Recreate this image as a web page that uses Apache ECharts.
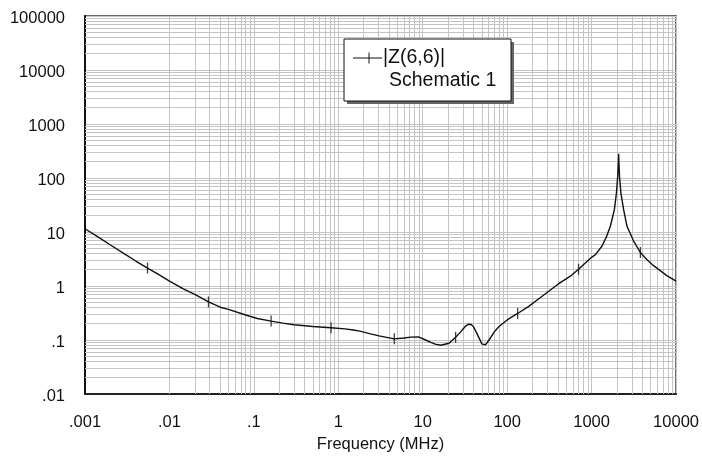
<!DOCTYPE html>
<html>
<head>
<meta charset="utf-8">
<script src="https://cdn.jsdelivr.net/npm/echarts@6/dist/echarts.min.js"></script>
<style>
  html, body { margin: 0; padding: 0; background: #fff; }
  #main { width: 702px; height: 458px; }
</style>
</head>
<body>
<div id="main"></div>
<script>
// |Z(6,6)| vs frequency
const freqMHz = [
  0.001, 0.0015, 0.002, 0.003, 0.004, 0.0055, 0.0075, 0.01, 0.015, 0.02,
  0.029, 0.04, 0.05, 0.08, 0.11, 0.16, 0.22, 0.3, 0.5, 0.82,
  1.2, 1.5, 1.8, 2.4, 3.04, 4.6, 6, 7.2, 8.9, 10.8,
  12.5, 14, 16.3, 20.5, 24.5, 28, 32, 35, 37.5, 40,
  44, 47, 50, 52, 55, 58, 61, 70, 80, 100,
  133, 180, 250, 400, 560, 700, 1000, 1110, 1330, 1500,
  1670, 1860, 1965, 2036, 2075, 2089, 2105, 2140, 2224, 2393,
  2620, 3140, 3780, 4500, 5420, 7770, 10000
];
const zMag = [
  11.5, 7.7, 5.75, 3.85, 2.9, 2.15, 1.62, 1.23, 0.87, 0.7,
  0.506, 0.405, 0.37, 0.29, 0.25, 0.224, 0.205, 0.192, 0.178, 0.169,
  0.161, 0.153, 0.146, 0.13, 0.119, 0.105, 0.109, 0.113, 0.114, 0.1,
  0.09, 0.084, 0.08, 0.087, 0.112, 0.14, 0.18, 0.196, 0.194, 0.175,
  0.13, 0.105, 0.085, 0.079, 0.081, 0.09, 0.1, 0.14, 0.178, 0.235,
  0.31, 0.42, 0.62, 1.08, 1.52, 2.04, 3.4, 3.8, 5.5, 8.2,
  12.9, 25.9, 52, 106, 200, 280, 200, 106, 52, 25.9,
  12.9, 6.8, 4.17, 3.1, 2.38, 1.56, 1.23
];
// tick marks drawn on the trace
const markerFreq = [0.0055, 0.029, 0.16, 0.82, 4.6, 24.5, 133, 700, 3780];
const markerZ = [2.15, 0.506, 0.224, 0.169, 0.105, 0.112, 0.31, 2.04, 4.17];

const xTickLabels = ['.001', '.01', '.1', '1', '10', '100', '1000', '10000'];
const yTickLabels = ['.01', '.1', '1', '10', '100', '1000', '10000', '100000'];

const xDecades = [-3, -2, -1, 0, 1, 2, 3];
const yDecades = [-2, -1, 0, 1, 2, 3, 4];

// minor log grid lines (2..9 in every decade)
const minorLines = [];
xDecades.forEach(function (d) {
  for (let m = 2; m <= 9; m++) minorLines.push({ xAxis: m * Math.pow(10, d) });
});
yDecades.forEach(function (d) {
  for (let m = 2; m <= 9; m++) minorLines.push({ yAxis: m * Math.pow(10, d) });
});

const gridColor = '#c4c4c4';
const font = 'Arial, "Liberation Sans", sans-serif';

const chart = echarts.init(document.getElementById('main'));

const option = {
  backgroundColor: '#fff',
  animation: false,
  grid: {
    left: 85, right: 25, top: 16, bottom: 60,
    show: true, borderColor: '#333', borderWidth: 1.5
  },
  xAxis: {
    type: 'log', logBase: 10, min: 0.001, max: 10000, splitNumber: 7,
    name: 'Frequency (MHz)', nameLocation: 'middle', nameGap: 42,
    nameTextStyle: { color: '#111', fontSize: 16.5, fontFamily: font },
    axisLine: { show: true, lineStyle: { color: '#222', width: 2 } },
    axisTick: { show: false },
    axisLabel: {
      margin: 20, color: '#111', fontSize: 16.5, fontFamily: font,
      formatter: function (v) {
        return xTickLabels[Math.round(Math.log10(v)) + 3];
      }
    },
    splitLine: { show: true, lineStyle: { color: gridColor, width: 1 } }
  },
  yAxis: {
    type: 'log', logBase: 10, min: 0.01, max: 100000, splitNumber: 7,
    axisLine: { show: true, lineStyle: { color: '#111', width: 2 } },
    axisTick: { show: false },
    axisLabel: {
      margin: 20, color: '#111', fontSize: 16.5, fontFamily: font,
      formatter: function (v) {
        return '{t|' + yTickLabels[Math.round(Math.log10(v)) + 2] + '}';
      },
      rich: {
        t: { fontSize: 16.5, fontFamily: font, color: '#111', padding: [5, 0, 0, 0] }
      }
    },
    splitLine: { show: true, lineStyle: { color: gridColor, width: 1 } }
  },
  series: [
    {
      type: 'line',
      data: [],
      z: 1,
      silent: true,
      markLine: {
        z: 1,
        silent: true,
        symbol: 'none',
        label: { show: false },
        animation: false,
        lineStyle: { color: gridColor, type: 'solid', width: 1 },
        data: minorLines
      }
    },
    {
      name: '|Z(6,6)|',
      type: 'line',
      z: 3,
      data: freqMHz.map(function (f, i) { return [f, zMag[i]]; }),
      showSymbol: false,
      smooth: false,
      lineStyle: { color: '#111', width: 1.4 }
    },
    {
      type: 'scatter',
      z: 4,
      data: markerFreq.map(function (f, i) { return [f, markerZ[i]]; }),
      symbol: 'rect',
      symbolSize: [1.3, 11],
      itemStyle: { color: '#111' }
    }
  ],
  graphic: [
    { type: 'rect', shape: { x: 347, y: 42, width: 167, height: 62 }, style: { fill: '#666' }, z: 10 },
    { type: 'rect', shape: { x: 344, y: 39, width: 167, height: 62 }, style: { fill: '#fff', stroke: '#111', lineWidth: 1 }, z: 11 },
    { type: 'line', shape: { x1: 353, y1: 58, x2: 382, y2: 58 }, style: { stroke: '#111', lineWidth: 1 }, z: 12 },
    { type: 'line', shape: { x1: 369, y1: 52.5, x2: 369, y2: 63.5 }, style: { stroke: '#111', lineWidth: 1 }, z: 12 },
    { type: 'text', x: 383, y: 58, z: 12, style: { text: '|Z(6,6)|', fill: '#111', fontSize: 19.5, fontFamily: font, verticalAlign: 'middle' } },
    { type: 'text', x: 389, y: 81, z: 12, style: { text: 'Schematic 1', fill: '#111', fontSize: 19.5, fontFamily: font, verticalAlign: 'middle' } }
  ]
};

chart.setOption(option);
</script>
</body>
</html>
